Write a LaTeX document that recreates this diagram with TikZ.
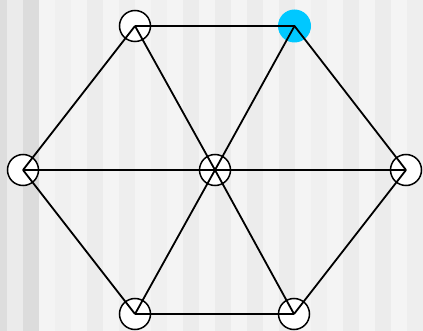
\documentclass[tikz,border=0pt]{standalone}
\usepackage{xcolor}
\definecolor{hl}{RGB}{0,200,255}
\begin{document}
\begin{tikzpicture}[x=1pt,y=-1pt,
  vtx/.style={circle,draw=black,fill=white,line width=1.5pt,minimum size=31pt,inner sep=0pt},
  hlvtx/.style={circle,fill=hl,minimum size=33pt,inner sep=0pt},
  edge/.style={line width=1.8pt,black}]
\useasboundingbox (0,0) rectangle (423,331);
% background stripes
\def\stripe#1#2#3{\fill[color=#3] (#1,0) rectangle (#2,331);}
\definecolor{s0}{RGB}{221,221,221}
\definecolor{s1}{RGB}{235,235,235}
\definecolor{s2}{RGB}{220,220,220}
\definecolor{sa}{RGB}{244,244,244}
\definecolor{sb}{RGB}{240,240,240}
\definecolor{sc}{RGB}{236,236,236}
\definecolor{sd}{RGB}{238,238,238}
\stripe{0}{6.7}{s0}
\stripe{6.7}{22.7}{s1}
\stripe{22.7}{38.5}{s2}
\stripe{38.5}{55}{sa}
\stripe{55}{71}{sb}
\stripe{71}{87}{sa}
\stripe{87}{103}{sc}
\stripe{103}{119}{sa}
\stripe{119}{135}{sd}
\stripe{135}{151}{sa}
\stripe{151}{167}{sb}
\stripe{167}{183}{sa}
\stripe{183}{199}{sc}
\stripe{199}{215}{sa}
\stripe{215}{231}{sc}
\stripe{231}{247}{sa}
\stripe{247}{263}{sc}
\stripe{263}{279}{sa}
\stripe{279}{295}{sc}
\stripe{295}{311}{sa}
\stripe{311}{327}{sb}
\stripe{327}{343}{sa}
\stripe{343}{359}{sc}
\stripe{359}{375}{sa}
\stripe{375}{391}{sc}
\stripe{391}{407}{sa}
\stripe{407}{423}{sd}
% vertices
\node[vtx] (tl) at (135,26) {};
\node[hlvtx] (tr) at (294.5,26) {};
\node[vtx] (l) at (23,170) {};
\node[vtx] (c) at (215,170) {};
\node[vtx] (r) at (406,170) {};
\node[vtx] (bl) at (135,314) {};
\node[vtx] (br) at (294,314) {};
% edges
\draw[edge] (tl.center) -- (tr.center);
\draw[edge] (tl.center) -- (l.center);
\draw[edge] (tl.center) -- (c.center);
\draw[edge] (tr.center) -- (c.center);
\draw[edge] (tr.center) -- (r.center);
\draw[edge] (l.center) -- (c.center);
\draw[edge] (c.center) -- (r.center);
\draw[edge] (l.center) -- (bl.center);
\draw[edge] (c.center) -- (bl.center);
\draw[edge] (c.center) -- (br.center);
\draw[edge] (r.center) -- (br.center);
\draw[edge] (bl.center) -- (br.center);
\end{tikzpicture}
\end{document}
